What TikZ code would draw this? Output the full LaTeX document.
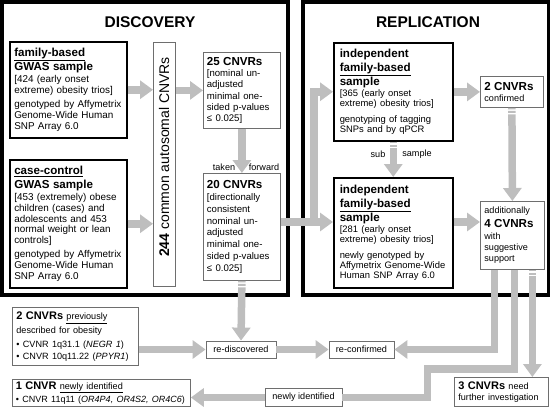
\documentclass[tikz,border=0pt]{standalone}
\usepackage{fontspec}
\setmainfont{Liberation Sans}
\usetikzlibrary{arrows.meta, positioning}
\definecolor{flowgray}{RGB}{190,190,190}
\definecolor{boxgray}{RGB}{110,110,110}
\newcommand*{\hdfont}{\fontsize{11.6}{14}\selectfont\bfseries}
\newcommand*{\gwfont}{\fontsize{9.9}{10.8}\selectfont}
\newcommand*{\smfont}{\fontsize{9.4}{10.2}\selectfont}
\newcommand*{\cvfont}{\fontsize{9.6}{11.3}\selectfont}
\newcommand*{\xsfont}{\fontsize{9.1}{11.2}\selectfont}
\newcommand*{\btfont}{\fontsize{11}{13}\selectfont\bfseries}

\begin{document}
\begin{tikzpicture}[
        x=1pt, y=-1pt, >={Triangle[width=18pt,length=13pt]},
        frame/.style={draw, line width=3.6pt},
        title/.style={font=\fontsize{15.5}{18}\selectfont\bfseries},
        sample/.style={draw, line width=1.5pt, anchor=north west, align=left, inner xsep=6pt, inner ysep=1pt},
        result/.style={draw=boxgray, line width=0.8pt, anchor=north west, align=left, inner xsep=3.5pt, inner ysep=1pt},
        tag/.style={draw=boxgray, line width=0.8pt, font=\xsfont, inner sep=1pt},
        flow/.style={draw=flowgray, line width=7.5pt, ->},
        bar/.style={draw=flowgray, line width=7.5pt},
        fadestart/.style={dash pattern=on 1.5pt off 1.5pt on 2pt off 1.5pt on 500pt},
        lbl/.style={font=\xsfont, inner sep=1pt},
        ]

        \useasboundingbox (0,0) rectangle (552,408);

        % the two stages
        \draw[frame] (2,2) rectangle (288,295);
        \draw[frame] (303,2) rectangle (548.5,295);
        \node[title] (disctitle) at (150,22) {DISCOVERY};
        \node[title] (reptitle)  at (428,22) {REPLICATION};

        % discovery
        \node[sample, text width=108pt, inner xsep=4.5pt, minimum height=96pt] (fam) at (9,41)
            {{\hdfont\underline{family-based}\\GWAS sample\par}\vspace{1pt}
             {\gwfont [424 (early onset\\extreme) obesity trios]\par}\vspace{4pt}
             {\gwfont genotyped by Affymetrix\\Genome-Wide Human\\SNP Array 6.0\par}};
        \node[sample, text width=108pt, inner xsep=4.5pt, minimum height=128pt] (cc) at (9,159)
            {{\hdfont\underline{case-control}\\GWAS sample\par}\vspace{1pt}
             {\gwfont [453 (extremely) obese\\children (cases) and\\adolescents and 453\\normal weight or lean\\controls]\par}\vspace{3pt}
             {\gwfont genotyped by Affymetrix\\Genome-Wide Human\\SNP Array 6.0\par}};
        \node[result, minimum width=22pt, minimum height=244pt, inner sep=0pt] (c244) at (153,42) {};
        \node[rotate=90, font=\fontsize{14}{16}\selectfont] (c244text) at (164,157)
            {\textbf{244} common autosomal CNVRs};
        \node[result, text width=70pt, minimum height=76pt] (c25) at (203,52)
            {{\hdfont 25 CNVRs\par}
             {\cvfont [nominal un-\\adjusted\\minimal one-\\sided p-values\\≤ 0.025]\par}};
        \node[result, text width=70pt, minimum height=107pt] (c20) at (203,173)
            {{\hdfont 20 CNVRs\par}
             {\fontsize{9.6}{11.8}\selectfont [directionally\\consistent\\nominal un-\\adjusted\\minimal one-\\sided p-values\\≤ 0.025]\par}};

        % replication
        \node[sample, text width=107pt, minimum height=98pt] (ind1) at (333,42)
            {{\hdfont independent\\\underline{family-based}\\sample\par}\vspace{1pt}
             {\smfont [365 (early onset\\extreme) obesity trios]\par}\vspace{5pt}
             {\smfont genotyping of tagging\\SNPs and by qPCR\par}};
        \node[sample, text width=107pt, minimum height=110pt] (ind2) at (333,177)
            {{\hdfont independent\\\underline{family-based}\\sample\par}\vspace{1pt}
             {\smfont [281 (early onset\\extreme) obesity trios]\par}\vspace{5pt}
             {\smfont newly genotyped by\\Affymetrix Genome-Wide\\Human SNP Array 6.0\par}};
        \node[result, text width=55pt, inner xsep=4pt, minimum height=31pt] (conf) at (480,76)
            {{\hdfont 2 CNVRs\par}{\xsfont confirmed\par}};
        \node[result, text width=56pt, inner xsep=4pt, minimum height=68pt] (addl) at (480,201)
            {{\xsfont additionally\par}{\hdfont 4 CVNRs\par}{\xsfont with\\suggestive\\support\par}};

        % outcome
        \node[result, text width=118pt, inner xsep=4pt, minimum height=58pt] (prev) at (12,307)
            {{\btfont 2 CNVRs} {\xsfont\underline{previously}}\par\vspace{3pt}
             {\xsfont described for obesity\par}\vspace{3pt}
             {\xsfont • CVNR 1q31.1 (\textit{NEGR 1})\\• CNVR 10q11.22 (\textit{PPYR1})\par}};
        \node[result, text width=171pt, inner xsep=3.5pt, minimum height=27pt] (oneid) at (12,379)
            {{\btfont 1 CNVR} {\xsfont\underline{newly identified}}\par\vspace{2pt}
             {\fontsize{9}{11}\selectfont\mbox{• CNVR 11q11 (\textit{OR4P4, OR4S2, OR4C6})}\par}};
        \node[result, text width=86pt, inner xsep=4pt, minimum height=29pt] (further) at (454,377)
            {{\btfont 3 CNVRs} {\xsfont need}\par{\xsfont further investigation\par}};
        \node[tag, minimum width=70pt, minimum height=17pt] (redisc) at (241,349.5) {re-discovered};
        \node[tag, minimum width=65pt, minimum height=17pt] (reconf) at (361.5,349.5) {re-confirmed};
        \node[tag, minimum width=77pt, minimum height=18pt] (newly) at (303.5,397.5) {newly identified};

        % flows
        \coordinate (split) at (314,222);
        \draw[flow] (fam.east) -- (fam.east -| c244.west);
        \draw[flow] (cc.east) -- (cc.east -| c244.west);
        \draw[flow] (c25.west -| c244.east) -- (c25.west);
        \draw[flow] (c25.south) -- (c20.north);
        \node[lbl] (taken) at (224,167) {taken};
        \node[lbl] (forward) at (264,167) {forward};
        \draw[flow] (c20.east |- split) -- (ind2.west |- split);
        \draw[flow] (split) |- (ind1.west);
        \draw[flow] (ind1.east |- conf.west) -- (conf.west);
        \draw[flow, fadestart] (ind1.south) -- (ind2.north);
        \node[lbl] (sub) at (378,154) {sub};
        \node[lbl] (subsample) at (417,154) {sample};
        \draw[flow] (ind2.east |- split) -- (addl.west |- split);
        \draw[flow, fadestart] (conf.south) -- (addl.north);
        \draw[flow, fadestart] (c20.south) -- (redisc.north);
        \draw[flow] (prev.east |- redisc.west) -- (redisc.west);
        \draw[flow] (redisc.east) -- (reconf.west);
        \draw[flow] ([xshift=-18pt]addl.south) |- (reconf.east);
        \draw[bar] ([xshift=2pt]addl.south) |- ++(-87,99) |- (newly.east);
        \draw[flow] (newly.west) -- (newly.west -| oneid.east);
        \draw[flow, fadestart] ([xshift=20pt]addl.south) -- ([xshift=20pt]addl.south |- further.north);
\end{tikzpicture}
\end{document}
